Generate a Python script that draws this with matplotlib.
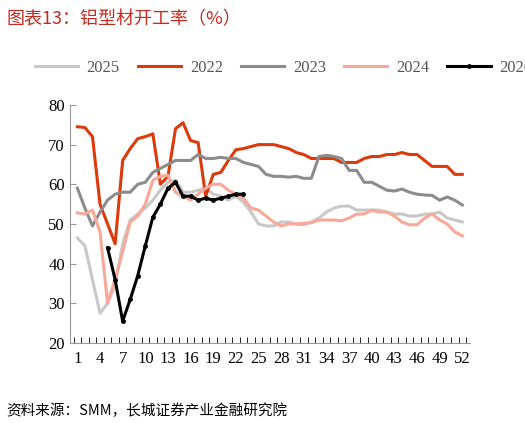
import numpy as np
import matplotlib.pyplot as plt
from matplotlib.lines import Line2D

plt.rcParams['font.family'] = ['Liberation Serif', 'Noto Sans CJK SC']

weeks = np.arange(1, 53)
y2022 = [74.5, 74.3, 72, 55, 50, 45, 66, 69, 71.5, 72, 72.7, 60, 62, 74, 75.5, 71, 70.5, 57, 62.5, 63,
         66, 68.7, 69, 69.5, 70, 70, 70, 69.5, 69, 68, 67.5, 66.5, 66.5, 66.5, 66.5, 65.5, 65.5, 65.5,
         66.5, 67, 67, 67.5, 67.5, 68, 67.5, 67.5, 66, 64.5, 64.5, 64.5, 62.5, 62.5]
y2023 = [59, 54, 49.5, 53, 56, 57.5, 58, 58, 60, 60.5, 63, 64, 65, 66, 66, 66, 67.5, 66.5, 66.5, 66.8,
         66.5, 66.5, 65.5, 65, 64.5, 62.5, 62, 62, 61.8, 62, 61.5, 61.5, 67, 67.3, 67, 66.5, 63.5, 63.5,
         60.5, 60.5, 59.5, 58.5, 58.3, 58.8, 58, 57.5, 57.3, 57.2, 56, 56.8, 56, 54.8]
y2024 = [52.8, 52.5, 53.5, 48, 30, 36, 43, 50.5, 52, 55, 61, 62, 62.3, 58, 57, 56, 57.5, 59, 60, 60,
         58.5, 57.5, 56.5, 54, 53.5, 52, 50.5, 49.5, 50, 50, 50.2, 50.3, 51, 51, 51, 50.8, 51.5, 52.5,
         52.5, 53.5, 53, 53, 52, 50.5, 49.8, 49.8, 51.5, 52.5, 51, 50, 48, 47]
y2025 = [46.5, 44.5, 36, 27.5, 30, 34.5, 45, 51, 52.5, 54, 56, 58.5, 60.5, 61, 58, 58, 58.5, 59, 57.5, 57,
         56, 57, 55.5, 53, 50, 49.5, 49.5, 50.5, 50.5, 50, 49.8, 50.5, 51.5, 53, 54, 54.5, 54.5, 53.5,
         53.5, 53.5, 53.5, 53, 52.5, 52.5, 52, 52, 52.5, 52.5, 53, 51.5, 51, 50.5]
weeks2026 = np.arange(5, 24)
y2026 = [44, 36, 25.5, 31, 37, 44.5, 51.7, 55, 59, 60.5, 57, 57, 56, 56.5, 56, 56.5, 57, 57.5, 57.5]

fig = plt.figure(figsize=(5.25, 4.23), dpi=100)
ax = fig.add_axes([0.133, 0.189, 0.762, 0.563])

ax.plot(weeks, y2025, color='#c8c8c8', lw=2.2)
ax.plot(weeks, y2022, color='#dd3a0c', lw=2.2)
ax.plot(weeks, y2023, color='#8c8c8c', lw=2.2)
ax.plot(weeks, y2024, color='#f8a898', lw=2.2)
ax.plot(weeks2026, y2026, color='black', lw=2.2, marker='o', ms=2.5)

ax.set_ylim(20, 80)
ax.set_xlim(0, 53)
ax.set_xticks(np.arange(1, 53, 3))
ax.set_xticks(np.arange(0.5, 53, 1), minor=True)
ax.set_yticks(range(20, 81, 10))
for s in ['top', 'right']:
    ax.spines[s].set_visible(False)
for s in ['left', 'bottom']:
    ax.spines[s].set_color('#999999')
ax.tick_params(axis='both', labelsize=12, color='#999999')
ax.tick_params(axis='y', length=4, direction='in')
ax.tick_params(axis='x', which='major', length=0, pad=6)
ax.tick_params(axis='x', which='minor', length=4, direction='in')

handles = [Line2D([], [], color='#c8c8c8', lw=2.2),
           Line2D([], [], color='#dd3a0c', lw=2.2),
           Line2D([], [], color='#8c8c8c', lw=2.2),
           Line2D([], [], color='#f8a898', lw=2.2),
           Line2D([], [], color='black', lw=2.2, marker='o', ms=2.5)]
fig.legend(handles, ['2025', '2022', '2023', '2024', '2026'], loc='center', ncol=5,
           bbox_to_anchor=(0.54, 0.84), frameon=False, fontsize=12,
           handlelength=2.6, columnspacing=1.1, handletextpad=0.5, labelcolor='#555555')

fig.text(0.012, 0.955, '图表13：铝型材开工率（%）', color='#c8281e', fontsize=13, style='italic',
         family=['Noto Sans CJK SC'], va='center')
fig.text(0.012, 0.03, '资料来源：SMM，长城证券产业金融研究院', fontsize=10.5, style='italic',
         family=['Noto Sans CJK SC'], va='center')

fig.savefig('out.png', dpi=100)
